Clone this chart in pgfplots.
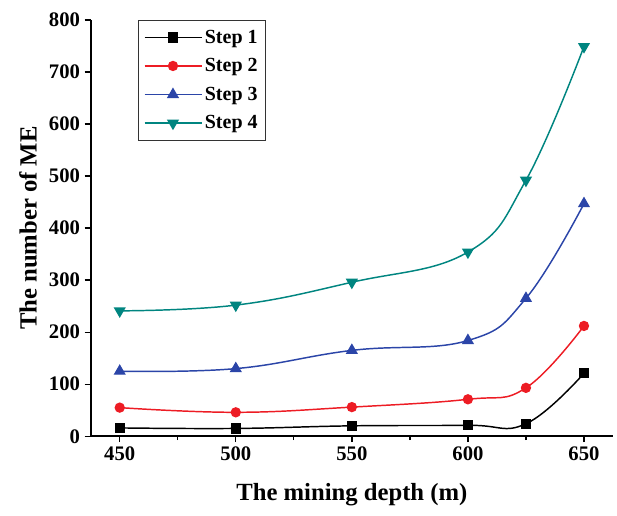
\documentclass[border=0pt]{standalone}
\usepackage{fontspec}
\setmainfont{Liberation Serif}
\usepackage{pgfplots}
\pgfplotsset{compat=1.18}
\definecolor{c1}{RGB}{0,0,0}
\definecolor{c2}{RGB}{237,28,36}
\definecolor{c3}{RGB}{43,69,168}
\definecolor{c4}{RGB}{0,133,128}
\begin{document}
\begin{tikzpicture}
\begin{axis}[
 scale only axis, width=391.5pt, height=312pt,
 xmin=437.5, xmax=662.5, ymin=0, ymax=800,
 axis x line=bottom, axis y line=left,
 axis line style={-, line width=1.2pt},
 tick align=outside, major tick length=4.5pt, minor tick length=3pt,
 every tick/.style={black, line width=1pt},
 xtick={450,500,550,600,650}, minor xtick={475,525,575,625},
 ytick={0,100,...,800},
 /pgf/number format/assume math mode=true,
 tick label style={font=\fontsize{15.5}{17}\selectfont\bfseries},
 label style={font=\fontsize{18.5}{20}\selectfont\bfseries},
 xlabel={The mining depth (m)}, ylabel={The number of ME},
 xlabel style={at={(axis description cs:0.5,-0.141)}, anchor=center},
 ylabel style={at={(axis description cs:-0.12,0.5)}, anchor=center},
 legend style={at={(0.0906,1)}, anchor=north west, font=\fontsize{15}{17}\selectfont\bfseries, draw=black!80, line width=0.6pt, inner xsep=4pt, inner ysep=5pt, row sep=6pt},
 legend cell align=left,
 legend image code/.code={\draw[mark repeat=2,mark phase=2] plot coordinates {(0cm,0cm) (0.75cm,0cm) (1.5cm,0cm)};},
 every axis plot/.append style={line width=1.1pt, smooth, tension=0.7},
]
\addplot[c1, mark=square*, mark size=3.3pt, mark options={solid}] coordinates {(450,16) (500,15) (550,20) (600,21) (625,24) (650,121)};
\addlegendentry{Step 1}
\addplot[c2, mark=*, mark size=3.3pt] coordinates {(450,55) (500,46) (550,56) (600,71) (625,93) (650,212)};
\addlegendentry{Step 2}
\addplot[c3, mark=triangle*, mark size=4.2pt] coordinates {(450,125) (500,130) (550,165) (600,184) (625,265) (650,447)};
\addlegendentry{Step 3}
\addplot[c4, mark=triangle*, mark size=4.2pt, mark options={rotate=180}] coordinates {(450,241) (500,252) (550,296) (600,354) (625,492) (650,749)};
\addlegendentry{Step 4}
\end{axis}
\pgfresetboundingbox
\path (current axis.south west) ++(-68pt,-59.25pt) coordinate (bbA);
\path (current axis.north east) ++(3pt,15pt) coordinate (bbB);
\useasboundingbox (bbA) rectangle (bbB);
\end{tikzpicture}
\end{document}
